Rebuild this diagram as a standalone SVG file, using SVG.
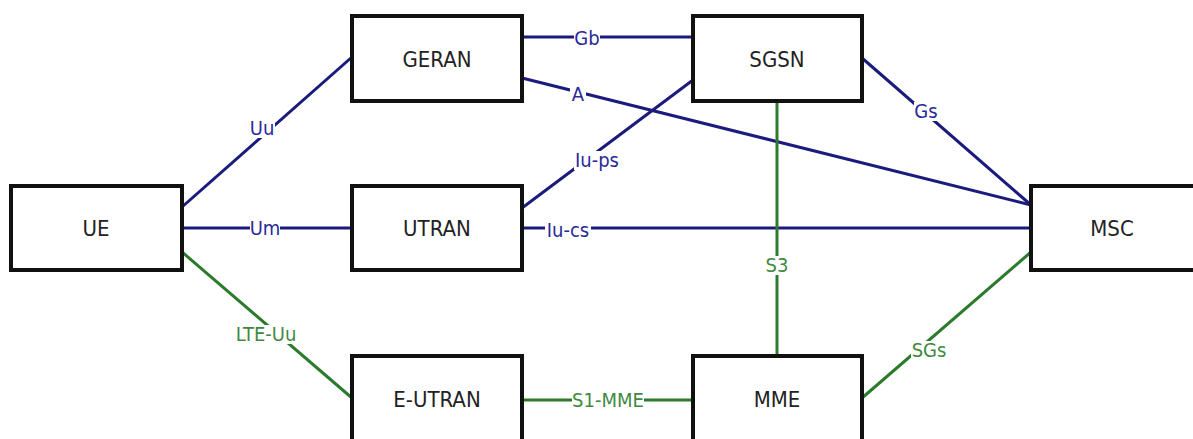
<svg xmlns="http://www.w3.org/2000/svg" width="1193" height="439" viewBox="0 0 1193 439">
<style>
.box{fill:#fff;stroke:#111;stroke-width:4}
.nt{font-family:"DejaVu Sans Condensed","DejaVu Sans",sans-serif;font-size:22px;fill:#222;text-anchor:middle}
.b{stroke:#1b1b7e;stroke-width:3;fill:none}
.g{stroke:#2c7a2c;stroke-width:3;fill:none}
.bg{fill:#fff}
.lb{font-family:"DejaVu Sans Condensed","DejaVu Sans",sans-serif;font-size:20px;text-anchor:middle}
.lbb{fill:#2a2a9a}
.lbg{fill:#3f8a3f}
</style>
<rect width="1193" height="439" fill="#fff"/>
<g id="connectors">
<line class="b" x1="182" y1="207" x2="352" y2="57"/>
<line class="b" x1="182" y1="228" x2="352" y2="228"/>
<line class="g" x1="182" y1="252" x2="352" y2="398"/>
<line class="b" x1="522" y1="37" x2="693" y2="37"/>
<line class="b" x1="522" y1="78" x2="1031" y2="205"/>
<line class="b" x1="522" y1="208" x2="693" y2="80"/>
<line class="b" x1="522" y1="228" x2="1031" y2="228"/>
<line class="b" x1="862" y1="58" x2="1031" y2="205"/>
<line class="g" x1="777" y1="101" x2="777" y2="356"/>
<line class="g" x1="862" y1="398" x2="1031" y2="252"/>
<line class="g" x1="522" y1="400" x2="693" y2="400"/>
<rect class="bg" x="249" y="119" width="26" height="19"/>
<rect class="bg" x="250" y="219" width="30" height="19"/>
<rect class="bg" x="233" y="325" width="66" height="19"/>
<rect class="bg" x="574" y="29" width="26" height="19"/>
<rect class="bg" x="570" y="85" width="16" height="19"/>
<rect class="bg" x="574" y="151" width="46" height="19"/>
<rect class="bg" x="545" y="221" width="46" height="19"/>
<rect class="bg" x="914" y="102" width="24" height="19"/>
<rect class="bg" x="765" y="256" width="24" height="19"/>
<rect class="bg" x="911" y="341" width="36" height="19"/>
<rect class="bg" x="572" y="391" width="72" height="19"/>
<text class="lb lbb" x="262" y="135">Uu</text>
<text class="lb lbb" x="265" y="235">Um</text>
<text class="lb lbg" x="266" y="341">LTE-Uu</text>
<text class="lb lbb" x="587" y="45">Gb</text>
<text class="lb lbb" x="578" y="101">A</text>
<text class="lb lbb" x="597" y="167">Iu-ps</text>
<text class="lb lbb" x="568" y="237">Iu-cs</text>
<text class="lb lbb" x="926" y="118">Gs</text>
<text class="lb lbg" x="777" y="272">S3</text>
<text class="lb lbg" x="929" y="357">SGs</text>
<text class="lb lbg" x="608" y="407">S1-MME</text>
</g>
<g id="UE"><rect class="box" x="11" y="186" width="171" height="84"/><text class="nt" x="96" y="236">UE</text></g>
<g id="GERAN"><rect class="box" x="352" y="16" width="170" height="85"/><text class="nt" x="437" y="67">GERAN</text></g>
<g id="UTRAN"><rect class="box" x="352" y="186" width="170" height="84"/><text class="nt" x="437" y="236">UTRAN</text></g>
<g id="E-UTRAN"><rect class="box" x="352" y="356" width="170" height="86"/><text class="nt" x="437" y="407">E-UTRAN</text></g>
<g id="SGSN"><rect class="box" x="693" y="16" width="169" height="85"/><text class="nt" x="777" y="67">SGSN</text></g>
<g id="MME"><rect class="box" x="693" y="356" width="169" height="86"/><text class="nt" x="777" y="407">MME</text></g>
<g id="MSC"><rect class="box" x="1031" y="186" width="166" height="84"/><text class="nt" x="1112" y="236">MSC</text></g>
</svg>
